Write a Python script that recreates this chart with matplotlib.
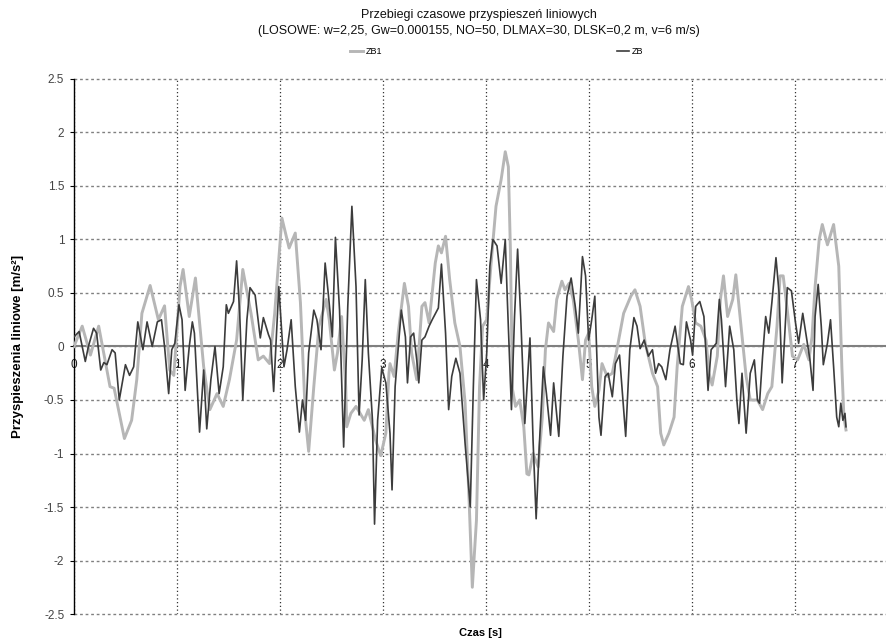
import numpy as np
import matplotlib
matplotlib.use("Agg")
import matplotlib.pyplot as plt

plt.rcParams['font.family'] = ['Liberation Sans', 'DejaVu Sans']

# ZB1 - light gray series (time [s], acceleration [m/s^2])
t_zb1 = [0.0, 0.08, 0.16, 0.24, 0.35, 0.39, 0.49, 0.56, 0.61, 0.66, 0.74, 0.82, 0.88, 0.93, 0.97,
         1.03, 1.06, 1.12, 1.18, 1.26, 1.32, 1.39, 1.45, 1.51, 1.58, 1.64, 1.72, 1.79, 1.84, 1.90, 1.95,
         2.02, 2.09, 2.15, 2.20, 2.25, 2.28, 2.33, 2.38, 2.45, 2.48, 2.53, 2.56, 2.60, 2.64, 2.65, 2.69,
         2.74, 2.82, 2.86, 2.93, 2.98, 3.03, 3.06, 3.07, 3.11, 3.15, 3.21, 3.25, 3.28, 3.33, 3.38, 3.41,
         3.45, 3.51, 3.54, 3.57, 3.61, 3.65, 3.70, 3.75, 3.80, 3.84, 3.87, 3.91, 3.94, 3.97, 4.01, 4.05,
         4.10, 4.15, 4.19, 4.22, 4.24, 4.26, 4.29, 4.33, 4.37, 4.40, 4.42, 4.46, 4.51, 4.55, 4.58, 4.61,
         4.66, 4.69, 4.74, 4.77, 4.81, 4.85, 4.90, 4.94, 4.97, 5.00, 5.03, 5.06, 5.10, 5.13, 5.18, 5.23,
         5.28, 5.34, 5.41, 5.45, 5.50, 5.55, 5.62, 5.67, 5.70, 5.73, 5.78, 5.83, 5.86, 5.91, 5.97, 6.00,
         6.04, 6.09, 6.14, 6.17, 6.20, 6.25, 6.28, 6.31, 6.35, 6.40, 6.43, 6.48, 6.53, 6.57, 6.64, 6.69,
         6.74, 6.78, 6.83, 6.86, 6.89, 6.93, 6.98, 7.03, 7.09, 7.14, 7.17, 7.20, 7.24, 7.27, 7.32, 7.38,
         7.43, 7.46, 7.48, 7.50]
zb1 = [0.0, 0.19, -0.08, 0.19, -0.375, -0.39, -0.86, -0.69, -0.31, 0.31, 0.57, 0.25, 0.38, -0.22, -0.27,
       0.56, 0.72, 0.28, 0.64, -0.19, -0.59, -0.44, -0.56, -0.31, 0.06, 0.72, 0.31, -0.125, -0.09, -0.16, 0.31,
       1.20, 0.92, 1.06, 0.41, -0.69, -0.98, -0.375, 0.19, 0.44, 0.25, -0.22, -0.06, 0.28, -0.375, -0.75, -0.625,
       -0.56, -0.69, -0.59, -0.875, -1.02, -0.81, -0.25, -0.16, -0.28, 0.125, 0.59, 0.375, -0.06, -0.31, 0.375, 0.41,
       0.22, 0.78, 0.94, 0.875, 1.03, 0.625, 0.22, 0.0, -0.53, -1.47, -2.25, -1.625, -0.375, 0.19, 0.25, 0.75,
       1.31, 1.56, 1.82, 1.68, 0.90, -0.40, -0.56, -0.50, -0.75, -1.19, -1.20, -1.0, -1.125, -0.66, -0.03, 0.22,
       0.14, 0.44, 0.61, 0.53, 0.59, 0.44, 0.06, -0.31, 0.06, 0.125, -0.375, -0.56, -0.41, -0.16, -0.28, -0.25,
       0.0, 0.31, 0.47, 0.53, 0.375, 0.03, -0.25, -0.375, -0.81, -0.92, -0.81, -0.66, -0.19, 0.375, 0.56, 0.44,
       0.22, 0.19, 0.06, -0.25, -0.36, -0.09, 0.44, 0.66, 0.28, 0.44, 0.67, 0.19, -0.28, -0.5, -0.5, -0.59,
       -0.44, -0.375, 0.19, 0.66, 0.66, 0.34, -0.09, -0.125, 0.02, -0.125, 0.09, 0.56, 1.0, 1.14, 0.95, 1.14,
       0.75, -0.19, -0.66, -0.78]

# ZB - dark gray series
t_zb = [0.0, 0.05, 0.11, 0.14, 0.19, 0.22, 0.26, 0.29, 0.32, 0.37, 0.40, 0.44, 0.50, 0.54, 0.58, 0.62,
        0.67, 0.71, 0.76, 0.81, 0.85, 0.88, 0.92, 0.95, 0.98, 1.02, 1.05, 1.08, 1.12, 1.15, 1.17, 1.22,
        1.26, 1.29, 1.33, 1.37, 1.41, 1.45, 1.48, 1.50, 1.55, 1.58, 1.61, 1.64, 1.68, 1.71, 1.76, 1.81,
        1.84, 1.89, 1.91, 1.94, 1.99, 2.04, 2.07, 2.11, 2.15, 2.19, 2.22, 2.25, 2.28, 2.33, 2.36, 2.40,
        2.44, 2.47, 2.51, 2.54, 2.58, 2.62, 2.66, 2.70, 2.74, 2.77, 2.80, 2.83, 2.86, 2.90, 2.92, 2.95,
        2.99, 3.03, 3.07, 3.09, 3.12, 3.18, 3.22, 3.24, 3.27, 3.30, 3.33, 3.35, 3.38, 3.41, 3.45, 3.48,
        3.54, 3.57, 3.61, 3.64, 3.67, 3.71, 3.75, 3.80, 3.85, 3.88, 3.91, 3.95, 3.98, 4.01, 4.04, 4.07,
        4.11, 4.15, 4.19, 4.21, 4.25, 4.28, 4.31, 4.34, 4.38, 4.43, 4.46, 4.49, 4.52, 4.56, 4.59, 4.63,
        4.66, 4.71, 4.75, 4.79, 4.83, 4.87, 4.90, 4.94, 4.97, 5.00, 5.03, 5.06, 5.10, 5.12, 5.16, 5.19,
        5.23, 5.26, 5.30, 5.36, 5.40, 5.44, 5.47, 5.50, 5.54, 5.58, 5.62, 5.65, 5.68, 5.71, 5.75, 5.79,
        5.84, 5.89, 5.92, 5.95, 5.99, 6.01, 6.04, 6.08, 6.12, 6.16, 6.19, 6.24, 6.27, 6.29, 6.33, 6.37,
        6.41, 6.44, 6.46, 6.49, 6.53, 6.57, 6.61, 6.64, 6.66, 6.69, 6.72, 6.75, 6.78, 6.82, 6.85, 6.88,
        6.93, 6.97, 7.01, 7.04, 7.08, 7.12, 7.15, 7.18, 7.20, 7.23, 7.26, 7.28, 7.32, 7.35, 7.38, 7.41,
        7.43, 7.45, 7.47, 7.49, 7.50]
zb = [0.09, 0.14, -0.14, 0.0, 0.17, 0.125, -0.22, -0.15, -0.17, -0.03, -0.06, -0.50, -0.17, -0.27, -0.19, 0.23,
      -0.03, 0.23, 0.0, 0.23, 0.25, 0.0, -0.44, -0.03, 0.03, 0.39, 0.25, -0.41, 0.0, 0.23, 0.125, -0.80,
      -0.22, -0.77, -0.31, 0.0, -0.44, -0.19, 0.39, 0.31, 0.42, 0.80, 0.31, -0.50, 0.25, 0.55, 0.48, 0.08,
      0.27, 0.11, 0.06, -0.42, 0.56, -0.19, -0.03, 0.25, -0.375, -0.80, -0.5, -0.69, -0.06, 0.34, 0.25, -0.03,
      0.78, 0.5, 0.09, 1.02, 0.34, -0.94, 0.375, 1.31, 0.56, -0.64, -0.125, 0.625, -0.06, -0.69, -1.66, -0.69,
      -0.20, -0.34, -0.81, -1.34, -0.375, 0.34, 0.09, -0.34, 0.09, 0.125, -0.125, -0.34, 0.06, 0.09, 0.19, 0.25,
      0.36, 0.77, 0.125, -0.59, -0.28, -0.11, -0.25, -0.91, -1.5, -0.375, 0.625, 0.25, -0.50, -0.06, 0.75, 1.0,
      0.94, 0.59, 1.0, 0.44, -0.59, 0.28, 0.91, 0.28, -0.72, 0.08, -0.875, -1.61, -0.94, -0.19, -0.44, -0.83,
      -0.34, -0.84, -0.09, 0.47, 0.64, 0.375, 0.125, 0.84, 0.66, 0.06, 0.25, 0.47, -0.66, -0.83, -0.28, -0.25,
      -0.47, -0.16, -0.08, -0.84, -0.03, 0.27, 0.19, -0.02, 0.06, -0.09, -0.03, -0.25, -0.16, -0.19, -0.31, -0.03,
      0.19, -0.16, -0.17, 0.23, 0.06, -0.08, 0.375, 0.42, 0.28, -0.41, -0.03, 0.03, 0.44, 0.25, -0.375, 0.19,
      -0.03, -0.5, -0.72, -0.25, -0.81, -0.25, -0.125, -0.5, -0.53, -0.09, 0.28, 0.125, 0.41, 0.83, 0.5, -0.34,
      0.55, 0.52, 0.22, 0.03, 0.31, 0.06, -0.125, -0.41, 0.28, 0.58, 0.19, -0.17, 0.03, 0.25, -0.19, -0.66,
      -0.75, -0.53, -0.69, -0.625, -0.75]

y_ticks = np.arange(-2.5, 2.51, 0.5)
x_ticks = [0, 1, 2, 3, 4, 5, 6, 7]

fig = plt.figure(figsize=(8.87, 6.41), dpi=100)
ax = fig.add_axes([0.0834, 0.0421, 0.9156, 0.8347])

ax.plot(t_zb1, zb1, color='#b6b6b6', lw=2.1, label='ZB1', zorder=3)
ax.plot(t_zb, zb, color='#3c3c3c', lw=1.2, label='ZB', zorder=4)

ax.set_xlim(0, 7.89)
ax.set_ylim(-2.5, 2.5)
ax.set_yticks(y_ticks)
ax.set_yticklabels([f'{v:g}' for v in y_ticks])
ax.set_xticks(x_ticks)
ax.set_xticklabels([str(v) for v in x_ticks])

# Excel style: horizontal axis crossing at zero, no frame
ax.spines['bottom'].set_position(('data', 0))
ax.spines['bottom'].set_color('#808080')
ax.spines['bottom'].set_linewidth(1.5)
ax.spines['bottom'].set_zorder(2)
ax.spines['top'].set_visible(False)
ax.spines['right'].set_visible(False)
ax.spines['left'].set_color('black')
ax.spines['left'].set_linewidth(1.0)
ax.tick_params(axis='x', length=0, pad=9, labelsize=8.5, labelcolor='#222222')
ax.tick_params(axis='y', length=3, width=0.8, pad=4, labelsize=8.5, labelcolor='#444444')

ax.grid(axis='y', color='#808080', linestyle=(0, (2, 2)), linewidth=1.0)
ax.grid(axis='x', color='#333333', linestyle=(0, (1, 2)), linewidth=0.9)
ax.set_axisbelow(True)
for gl in ax.get_ygridlines():
    gl.set_clip_on(False)

ax.set_ylabel('Przyspieszenia liniowe [m/s²]', fontsize=9.5, fontweight='bold', labelpad=14)
ax.set_xlabel('Czas [s]', fontsize=8, fontweight='bold')
ax.xaxis.set_label_coords(0.5, -0.027)

fig.text(0.54, 0.977, 'Przebiegi czasowe przyspieszeń liniowych', ha='center', va='center',
         fontsize=9, color='#111111')
fig.text(0.54, 0.952, '(LOSOWE: w=2,25, Gw=0.000155, NO=50, DLMAX=30, DLSK=0,2 m, v=6 m/s)',
         ha='center', va='center', fontsize=9, color='#111111')

fig.legend(loc='center', bbox_to_anchor=(0.56, 0.919), ncol=2, frameon=False, fontsize=6.5,
           handlelength=1.4, handletextpad=0.3, columnspacing=26)

fig.savefig('out.png', dpi=100)
